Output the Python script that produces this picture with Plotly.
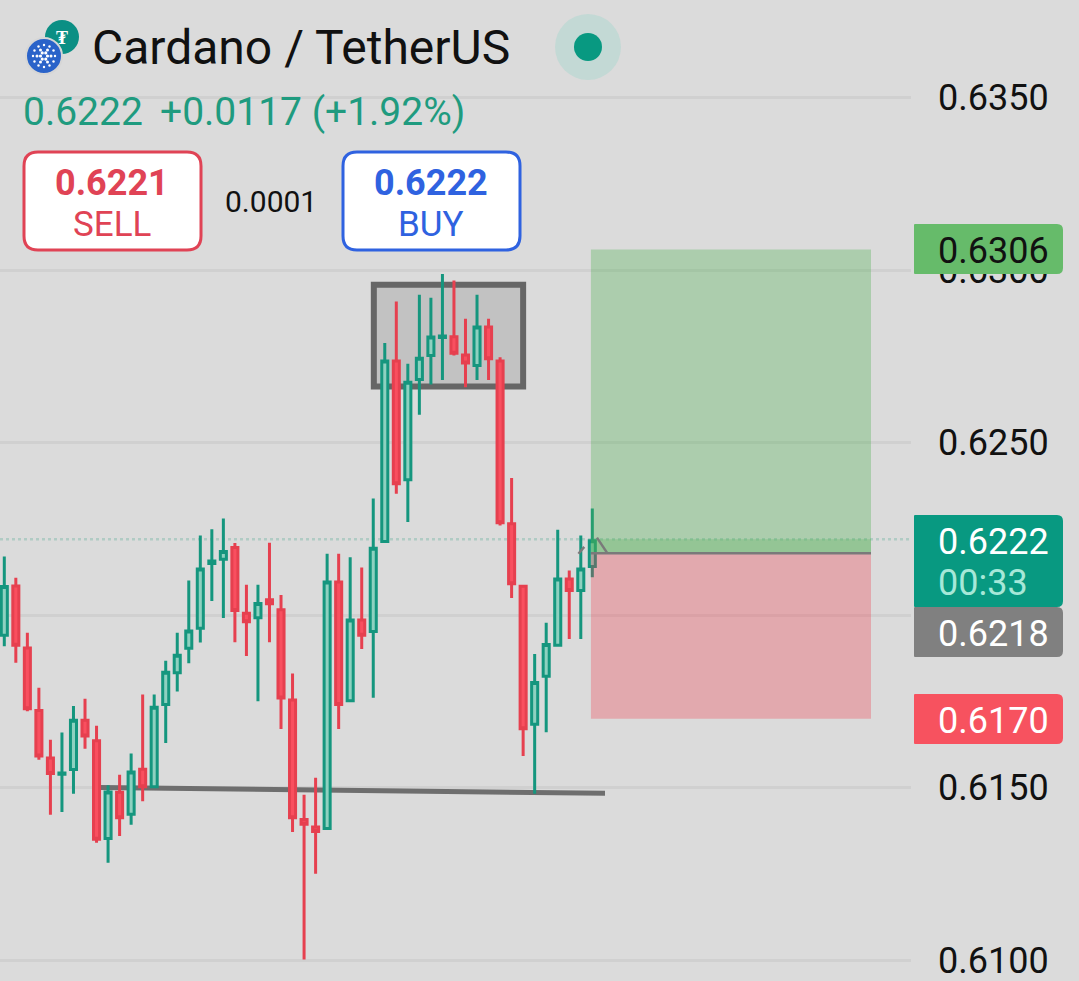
import math

import plotly.graph_objects as go

# candles, oldest first (green close > open, red close < open)
opens = [.61942, .62085, .61905, .61724, .61586, .61539, .61553, .61696, .61636, .61353,
         .61487, .61423, .61554, .61503, .61741, .61833, .61904, .61962, .62150, .62162,
         .62196, .62006, .61993, .62045, .62016, .61754, .61408, .61386, .61382, .62096,
         .61752, .61986, .61953, .62214, .62737, .62393, .62683, .62753, .62805, .62807,
         .62754, .62724, .62835, .62737, .62265, .62084, .61684, .61823, .61913, .62105,
         .62072, .62141]
highs = [.62170, .62109, .61949, .61790, .61639, .61660, .61737, .61758, .61680, .61507,
         .61538, .61599, .61770, .61770, .61868, .61949, .62101, .62231, .62249, .62280,
         .62209, .62088, .62088, .62210, .62059, .61831, .61480, .61529, .62178, .62178,
         .62168, .62138, .62338, .62789, .62909, .62729, .62929, .62920, .62989, .62970,
         .62859, .62929, .62859, .62748, .62398, .62087, .61888, .61978, .62248, .62130,
         .62231, .62309]
lows = [.61910, .61862, .61722, .61581, .61422, .61430, .61483, .61613, .61341, .61283,
        .61360, .61393, .61461, .61500, .61630, .61779, .61861, .61921, .62041, .61992,
        .61922, .61882, .61751, .61922, .61670, .61372, .61002, .61251, .61379, .61670,
        .61749, .61902, .61761, .62211, .62352, .62270, .62581, .62669, .62682, .62753,
        .62661, .62682, .62682, .62260, .62050, .61592, .61483, .61661, .61910, .61931,
        .61931, .62110]
closes = [.62083, .61913, .61729, .61592, .61541, .61543, .61696, .61650, .61351, .61488,
          .61413, .61546, .61503, .61733, .61835, .61884, .61954, .62134, .62157, .62185,
          .62014, .61981, .62034, .62033, .61760, .61413, .61394, .61373, .62096, .61741,
          .61986, .61942, .62194, .62737, .62381, .62675, .62745, .62806, .62809, .62759,
          .62731, .62835, .62743, .62268, .62091, .61671, .61805, .61915, .62105, .62072,
          .62134, .62216]

last_price = 0.6222
take_profit = 0.6306
entry_price = 0.6218
stop_loss = 0.6170
y_ticks = [0.61, 0.615, 0.62, 0.625, 0.63, 0.635]

W, H = 1079, 981
X_RANGE = [-0.373, 78.64]
UP, DOWN = "#15967e", "#e6404f"
FONT = "Roboto"


def px(x):
    return x / W


def py(y):
    return 1 - y / H


def round_rect(x0, y0, x1, y1, r, left_r=None):
    """Path in paper coords from pixel corners; left corners may use another radius."""
    lr = r if left_r is None else left_r
    pts = [("M", x0 + lr, y0), ("L", x1 - r, y0), ("Q", x1, y0, x1, y0 + r), ("L", x1, y1 - r),
           ("Q", x1, y1, x1 - r, y1), ("L", x0 + lr, y1), ("Q", x0, y1, x0, y1 - lr),
           ("L", x0, y0 + lr), ("Q", x0, y0, x0 + lr, y0)]
    out = ""
    for p in pts:
        coords = [f"{px(v)},{py(w)}" for v, w in zip(p[1::2], p[2::2])]
        out += p[0] + " ".join(coords) + " "
    return out + "Z"


def box(x0, y0, x1, y1, r, fill, line=None, width=0, left_r=None):
    return dict(type="path", xref="paper", yref="paper", path=round_rect(x0, y0, x1, y1, r, left_r),
                fillcolor=fill, line=dict(color=line or fill, width=width), layer="above")


def dot(cx, cy, r, fill, line=None, width=0):
    return dict(type="circle", xref="paper", yref="paper", x0=px(cx - r), x1=px(cx + r),
                y0=py(cy + r), y1=py(cy - r), fillcolor=fill,
                line=dict(color=line or fill, width=width), layer="above")


def text(x, y, s, size, color, anchor="left", bold=False):
    return dict(xref="paper", yref="paper", x=px(x), y=py(y), text=f"<b>{s}</b>" if bold else s,
                showarrow=False, xanchor=anchor, yanchor="middle", borderpad=0,
                font=dict(family=FONT, size=size, color=color))


fig = go.Figure()
fig.add_trace(go.Candlestick(
    x=list(range(len(opens))), open=opens, high=highs, low=lows, close=closes,
    increasing=dict(line=dict(color=UP, width=3), fillcolor="#8ed1c0"),
    decreasing=dict(line=dict(color=DOWN, width=3), fillcolor="#f94f5f"),
    hoverinfo="skip", showlegend=False))

shapes = [
    # drawings behind the candles, above the grid
    dict(type="rect", x0=32.05, x1=45.0, y0=0.62663, y1=0.62958, layer="between",
         fillcolor="#c2c2c2", line=dict(color="#666666", width=6)),
    dict(type="line", x0=8.3, x1=52.1, y0=0.61501, y1=0.61484, layer="between",
         line=dict(color="#6e6e6e", width=5)),
    # last price line
    dict(type="line", x0=X_RANGE[0], x1=X_RANGE[1], y0=last_price, y1=last_price, layer="between",
         line=dict(color="#b0cbc4", width=2.5, dash="dot")),
    # long position tool
    dict(type="rect", x0=50.88, x1=75.17, y0=entry_price, y1=take_profit, layer="above",
         fillcolor="rgba(76,175,80,0.33)", line=dict(width=0)),
    dict(type="rect", x0=50.88, x1=75.17, y0=entry_price, y1=last_price, layer="above",
         fillcolor="rgba(76,175,80,0.25)", line=dict(width=0)),
    dict(type="rect", x0=50.88, x1=75.17, y0=stop_loss, y1=entry_price, layer="above",
         fillcolor="rgba(242,54,69,0.3)", line=dict(width=0)),
    dict(type="line", x0=50.88, x1=75.17, y0=entry_price, y1=entry_price, layer="above",
         line=dict(color="#7a7a7a", width=2.5)),
    dict(type="line", x0=51.4, x1=52.3, y0=0.62225, y1=0.6218, layer="above",
         line=dict(color="#7a7a7a", width=2.5)),
    dict(type="line", x0=49.8, x1=50.3, y0=0.62178, y1=0.62198, layer="above",
         line=dict(color="#7a7a7a", width=2.5)),
    # axis badges
    box(914, 224, 1063, 274, 6, "#66bb6a", left_r=1),
    box(914, 515, 1063, 607, 6, "#089981", left_r=1),
    box(914, 607, 1063, 657, 6, "#808080", left_r=1),
    box(914, 694, 1063, 744, 6, "#f7525f", left_r=1),
    # header
    dot(62, 37, 17, "#0b8f84"),
    dot(44, 56, 18, "#2a63c9", line="#d6d6d6", width=2),
    dot(588, 47, 33, "#c3d9d5"),
    dot(588, 47, 14, "#089981"),
    box(24, 152, 201, 250, 14, "#ffffff", line="#e04355", width=3),
    box(343, 152, 520, 250, 14, "#ffffff", line="#2f62e0", width=3),
]
# cardano logo dots
for radius, count, size in ((11, 12, 1.2), (7, 6, 1.5), (3.5, 6, 1.6)):
    for k in range(count):
        a = 2 * math.pi * k / count
        shapes.append(dot(44 + radius * math.cos(a), 56 + radius * math.sin(a), size, "#ffffff"))

annotations = [
    text(91, 48, "Cardano / TetherUS", 48, "#111111"),
    text(62, 37, "₮", 18, "#ffffff", anchor="center", bold=True),
    text(22, 112, "0.6222", 39, "#1f9b7f"),
    text(159, 112, "+0.0117 (+1.92%)", 39, "#1f9b7f"),
    text(112, 183, "0.6221", 36, "#e04355", anchor="center", bold=True),
    text(112, 224, "SELL", 35, "#e04355", anchor="center"),
    text(271, 201, "0.0001", 30, "#111111", anchor="center"),
    text(431, 183, "0.6222", 36, "#2f62e0", anchor="center", bold=True),
    text(431, 224, "BUY", 35, "#2f62e0", anchor="center"),
    text(937, 251, f"{take_profit:.4f}", 36, "#111111"),
    text(937, 542, f"{last_price:.4f}", 36, "#ffffff"),
    text(937, 583, "00:33", 36, "#a6e8d8"),
    text(937, 634, f"{entry_price:.4f}", 36, "#ffffff"),
    text(937, 721, f"{stop_loss:.4f}", 36, "#ffffff"),
]

fig.update_layout(
    width=W, height=H, margin=dict(l=0, r=0, t=0, b=0),
    paper_bgcolor="#dbdbdb", plot_bgcolor="#dbdbdb", boxgap=0.25,
    showlegend=False, shapes=shapes, annotations=annotations,
    xaxis=dict(domain=[0, 911 / W], range=X_RANGE, visible=False, rangeslider=dict(visible=False)),
    yaxis=dict(side="right", range=[0.6094, 0.63783], tickmode="array", tickvals=y_ticks,
               tickformat=".4f", ticks="", ticklabelstandoff=26, ticklabeloverflow="allow",
               zeroline=False, showline=False, gridcolor="#d0d0d0", gridwidth=3,
               tickfont=dict(family=FONT, size=36, color="#111111")),
)

# the default page body has an 8px margin, which would shift the whole picture
fig.write_html("out.html", config=dict(displayModeBar=False),
               post_script="document.body.style.margin='0';document.documentElement.style.overflow='hidden';")
